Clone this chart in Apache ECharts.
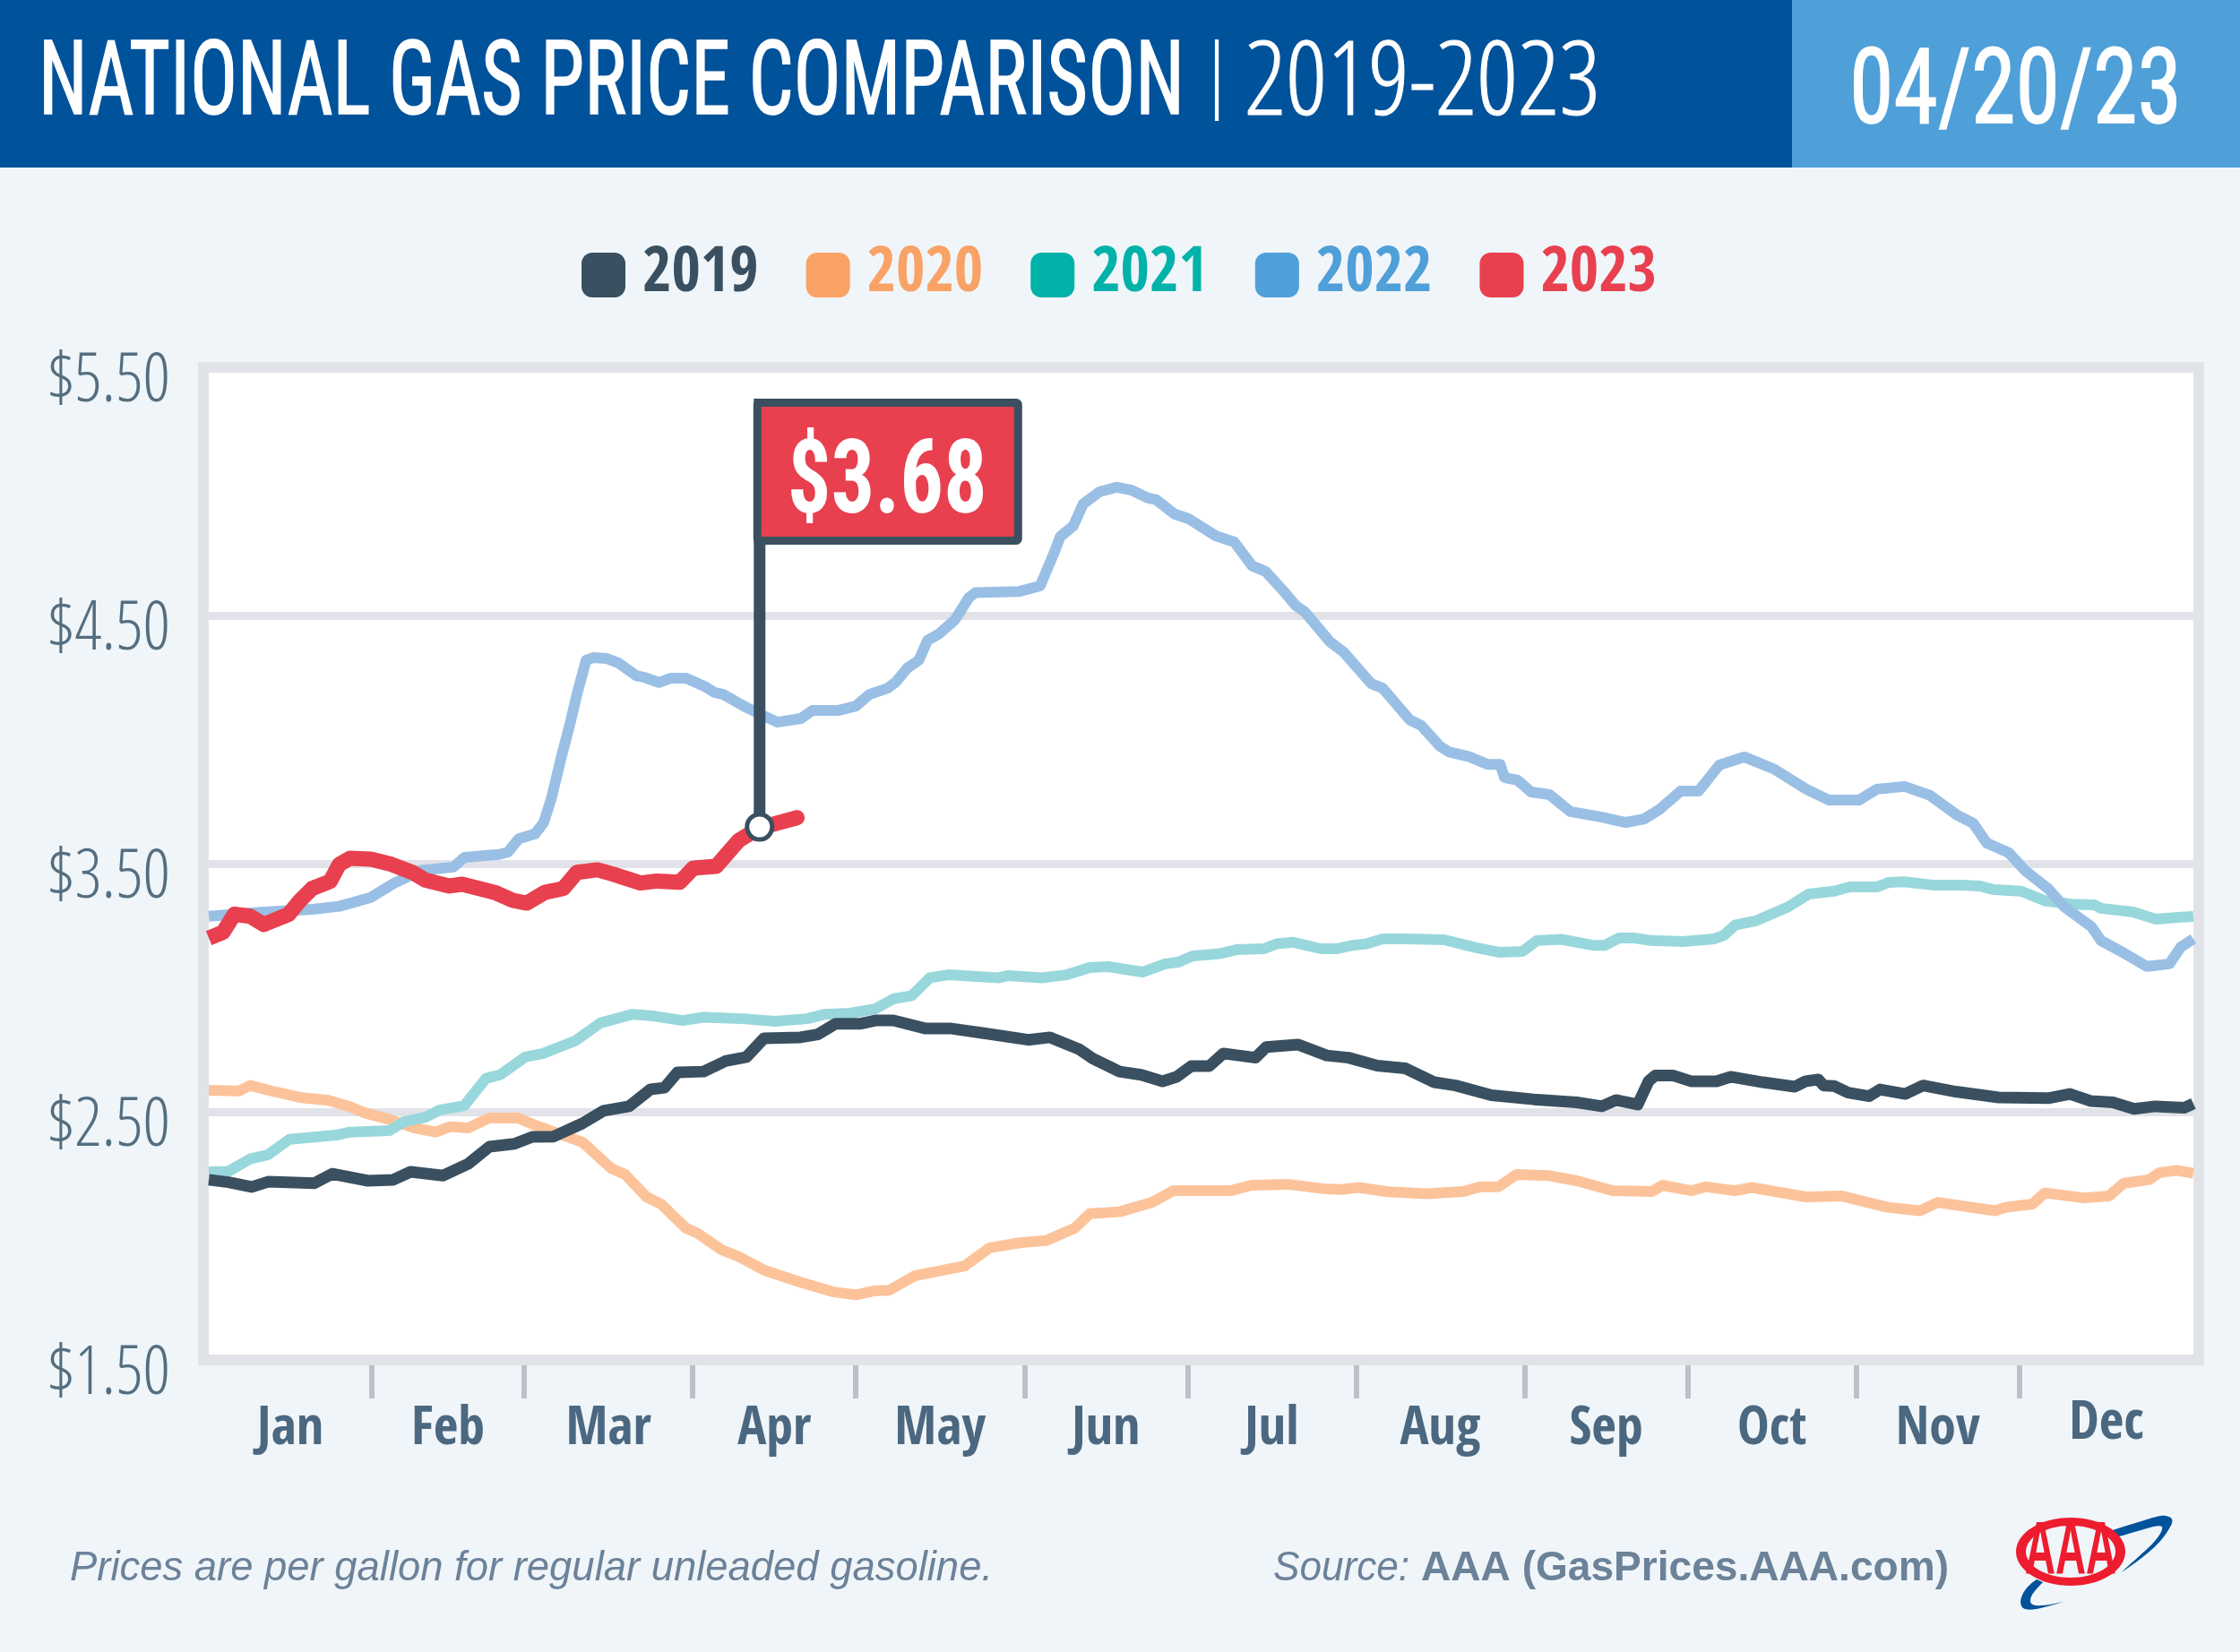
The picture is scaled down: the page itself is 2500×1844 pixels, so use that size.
<!DOCTYPE html>
<html><head><meta charset="utf-8">
<style>html,body{margin:0;padding:0;background:#F0F5F9}#c{width:2500px;height:1844px}</style>
<script src="https://cdn.jsdelivr.net/npm/echarts@6/dist/echarts.min.js"></script>
</head><body><div id="c"></div>
<script>
const monthNames=['Jan','Feb','Mar','Apr','May','Jun','Jul','Aug','Sep','Oct','Nov','Dec'];
const monthEnds=[30,58,89,119,150,180,211,242,272,303,333];
const monthMids=[15,44,73.5,104,134.5,165,195.5,226.5,257,287.5,318,349];
const priceTicks=[1.5,2.5,3.5,4.5,5.5];
const flagDay=101.3, flagPrice=3.648, flagLabel='$3.68';

const days2019=[0,3.6,7.9,10.9,19.4,22.7,29.3,33.9,37.1,43.1,47.7,51.6,56.2,59.5,63.4,68.7,72.6,77.3,81.2,83.8,86.2,91,95,98.9,102.1,108.8,112,115.3,119.9,122.6,125.9,131.7,136.3,142.8,150.7,154.7,160,162.6,167.5,171.5,175.4,178,180.7,184,186.6,192.5,194.5,200.3,205.6,209.6,214.9,220.1,225.4,229.3,235.9,243.7,251.6,256.2,258.8,262.8,264.8,266,269.4,272.6,277.3,279.9,285.8,291.7,293.7,296,297,298.9,301.5,305.4,307.4,312,315.3,321.3,329.2,338.3,342.3,346.2,350.2,354.1,358,363.3,365];
const prices2019=[2.226,2.216,2.197,2.218,2.212,2.25,2.222,2.226,2.258,2.243,2.29,2.359,2.371,2.399,2.40,2.453,2.504,2.522,2.59,2.597,2.659,2.662,2.704,2.721,2.796,2.80,2.812,2.855,2.855,2.868,2.868,2.836,2.836,2.816,2.79,2.80,2.753,2.714,2.662,2.649,2.623,2.641,2.684,2.684,2.735,2.718,2.761,2.771,2.727,2.718,2.686,2.675,2.619,2.606,2.567,2.55,2.538,2.522,2.547,2.529,2.623,2.646,2.646,2.623,2.623,2.641,2.619,2.601,2.623,2.63,2.606,2.604,2.577,2.563,2.59,2.572,2.606,2.581,2.558,2.555,2.572,2.543,2.538,2.512,2.522,2.516,2.533];

const days2020=[0,5.6,7.6,11.5,16.8,22,26,28.6,33.2,37.8,41.7,44.4,47.7,51.6,56.9,60.2,68.7,74,76.6,80.5,83.2,87.7,89.7,94.3,97.5,102.2,108.8,114.7,119,122.6,125.2,129.8,139,143.6,149.4,154,159.3,162,167.5,173.5,177.4,187.9,191.8,198.4,205,208.3,211.5,216.8,224,230.7,233.9,237.2,240.5,246.4,251.6,258.2,265.4,267.4,272.7,275.3,280.6,283.8,293.7,300.2,308.8,314.7,318,328.5,330.5,335.4,337.7,344.9,349.5,352.2,356.8,358.8,362,365];
const prices2020=[2.587,2.584,2.606,2.584,2.558,2.546,2.52,2.496,2.469,2.435,2.418,2.44,2.435,2.475,2.475,2.444,2.378,2.272,2.247,2.157,2.128,2.032,2.013,1.944,1.916,1.861,1.813,1.775,1.762,1.779,1.781,1.839,1.879,1.952,1.973,1.981,2.032,2.089,2.097,2.135,2.182,2.182,2.204,2.208,2.19,2.187,2.195,2.178,2.17,2.179,2.198,2.198,2.247,2.243,2.222,2.182,2.179,2.204,2.182,2.198,2.182,2.195,2.157,2.161,2.115,2.101,2.135,2.101,2.115,2.128,2.173,2.153,2.161,2.212,2.226,2.255,2.264,2.252];

const days2021=[0,3.6,7.6,10.9,14.8,23.4,26,33.2,35.9,39.8,42.4,47,51,53.6,58.2,61.5,67.4,72,77.9,81.8,87.1,91,98.2,104.1,110,113.3,118,122.6,125.9,129.3,132.6,136,145.3,147,153.2,157.8,162,165.4,171.7,175.9,178.4,181,185.6,189,194,196.5,199.5,204.5,207.4,210.4,212.9,215.9,220.4,227.2,233.1,237.3,241.6,244.3,248.7,254.6,256.8,259.3,262.3,265.2,271.1,276.9,278.7,280.7,284.5,290.4,294.2,298.9,301.8,306.8,308.9,311.9,317.3,322.4,325.7,328.3,333.3,337.9,342.5,346.8,348,353.9,358.1,362.7,365];
const prices2021=[2.258,2.26,2.31,2.327,2.389,2.406,2.418,2.424,2.46,2.478,2.507,2.525,2.635,2.649,2.721,2.735,2.786,2.858,2.893,2.886,2.868,2.881,2.875,2.865,2.875,2.893,2.897,2.915,2.955,2.968,3.04,3.052,3.04,3.049,3.04,3.052,3.081,3.085,3.063,3.096,3.104,3.128,3.136,3.153,3.157,3.177,3.183,3.157,3.157,3.171,3.177,3.197,3.197,3.193,3.161,3.143,3.146,3.19,3.195,3.171,3.171,3.20,3.20,3.19,3.186,3.197,3.212,3.252,3.269,3.325,3.377,3.389,3.406,3.406,3.424,3.427,3.413,3.413,3.41,3.395,3.389,3.349,3.337,3.334,3.32,3.305,3.276,3.284,3.287];

const days2022=[0,9.7,19,24,29.8,34,39,45,47,53.4,55,57,60,61.6,63,64.8,66.4,67.7,69.4,70.7,73.1,75.3,78.6,80.2,82.8,84.9,87.8,91.2,93,94.6,98.8,101.3,104.6,108.9,111,115.7,119,121.5,124.9,126.4,128.5,130.6,132.2,134.3,137.2,139.8,141,149.1,152.9,155.4,156.6,159,160.8,163.8,167,169.7,172.7,174.3,177.6,180.2,185.2,188.6,191.9,194.4,197.8,199.9,201.6,206.2,208.7,213.8,215.9,220.9,223,226.4,228,231.8,235.2,237.5,238.3,240.7,243.2,246.6,250.4,256,260.6,264,266.9,270.7,274,277.8,282.4,287.9,293.8,298,303.5,306.8,311.9,316.5,321.5,324.5,327,331.1,334.1,338.3,341.3,346.3,348,352.6,356.4,360.6,362.7,365];
const prices2022=[3.288,3.304,3.316,3.328,3.364,3.42,3.473,3.486,3.525,3.537,3.546,3.60,3.62,3.666,3.763,3.926,4.061,4.182,4.32,4.33,4.327,4.309,4.258,4.25,4.23,4.247,4.247,4.214,4.19,4.182,4.13,4.103,4.07,4.085,4.117,4.117,4.135,4.182,4.207,4.233,4.289,4.32,4.40,4.426,4.482,4.572,4.592,4.597,4.619,4.749,4.818,4.861,4.949,4.998,5.017,5.005,4.973,4.966,4.909,4.89,4.821,4.796,4.70,4.677,4.595,4.54,4.514,4.394,4.353,4.225,4.207,4.079,4.056,3.974,3.951,3.931,3.90,3.90,3.847,3.836,3.789,3.778,3.71,3.688,3.666,3.68,3.72,3.792,3.792,3.897,3.93,3.881,3.80,3.756,3.756,3.80,3.811,3.776,3.696,3.663,3.583,3.543,3.471,3.399,3.325,3.245,3.19,3.135,3.086,3.096,3.164,3.197];

const days2023=[0,2.6,4.7,7.6,10.1,14.7,16.8,19,22.3,24,26,29.8,33.6,37.4,39.9,44.2,46.6,52.6,55.9,58.5,61.8,65.2,67.7,71.5,74.4,79.4,82.4,86.6,89.1,93.3,97.5,101.3,103.8,108.2];
const prices2023=[3.20,3.223,3.296,3.288,3.255,3.296,3.352,3.40,3.428,3.497,3.522,3.518,3.497,3.465,3.433,3.41,3.417,3.384,3.352,3.341,3.384,3.40,3.465,3.475,3.457,3.422,3.43,3.425,3.482,3.489,3.594,3.645,3.659,3.685];

const years=['2019','2020','2021','2022','2023'];
const swatch={2019:'#3A5060',2020:'#F9A266',2021:'#00B2A9',2022:'#4F9FD9',2023:'#E8404F'};
const stroke={2019:'#3A5060',2020:'#FCC39B',2021:'#98D7DB',2022:'#99BFE5',2023:'#E8404F'};
const COND='"Open Sans Condensed",sans-serif';
const LIGHT='"Open Sans Condensed Light",sans-serif';
const ROBO='"Roboto Condensed",sans-serif';
const SANS='"Liberation Sans",sans-serif';
const mctx=document.createElement('canvas').getContext('2d');
function textScale(text,font,target){mctx.font=font;return target/mctx.measureText(text).width;}
function fit(text,left,cy,target,size,weight,color,family,embolden){
  const k=textScale(text,weight+' '+size+'px '+family,target);
  const style={text:text,fontSize:size,fontWeight:weight,fontFamily:family,fill:color,align:'left',verticalAlign:'middle'};
  if(embolden){style.stroke=color;style.lineWidth=embolden;}
  return {type:'text',x:left,y:cy,scaleX:k,z:20,style:style};
}
const zip=(a,b)=>a.map((d,i)=>[d,b[i]]);
const lineData={2019:zip(days2019,prices2019),2020:zip(days2020,prices2020),2021:zip(days2021,prices2021),2022:zip(days2022,prices2022),2023:zip(days2023,prices2023)};
const zOrder={2020:2,2021:3,2022:4,2019:5,2023:6};
const lastRed=days2023.length-1;

const chart=echarts.init(document.getElementById('c'),null,{renderer:'canvas',width:2500,height:1844});
const series=years.map(y=>({
  name:y,type:'line',data:lineData[y],z:zOrder[y],silent:true,animation:false,
  showSymbol:y==='2023',showAllSymbol:y==='2023',
  symbol:y==='2023'?((v,p)=>p.dataIndex===lastRed?'circle':'none'):'none',
  symbolSize:17,itemStyle:{color:stroke[y]},
  lineStyle:{color:stroke[y],width:y==='2023'?17:(y==='2019'?13:12),join:'round',cap:'butt'}
}));
series.push({
  name:'flag',type:'custom',z:10,silent:true,animation:false,
  data:[[flagDay,flagPrice]],
  renderItem:(params,api)=>{
    const p=api.coord([api.value(0),api.value(1)]);
    const dark='#3A5060';
    const boxL=p[0]-7, boxT=p[1]-478;
    return {type:'group',children:[
      {type:'rect',shape:{x:p[0]-6.5,y:boxT,width:13,height:478},style:{fill:dark}},
      {type:'rect',shape:{x:boxL+4.5,y:boxT+4.5,width:291,height:154,r:2},style:{fill:'#E8404F',stroke:dark,lineWidth:9}},
      {type:'text',x:boxL+38,y:boxT+98,scaleX:textScale(flagLabel,'bold 115px '+ROBO,223),
       style:{text:flagLabel,fontSize:115,fontWeight:'bold',fontFamily:ROBO,fill:'#fff',align:'left',verticalAlign:'middle'}},
      {type:'circle',shape:{cx:p[0],cy:p[1],r:14},style:{fill:'#fff',stroke:dark,lineWidth:5}}
    ]};
  }
});
const swooshes=['M2358 1708C2400 1695 2410 1691 2417 1692C2428 1694 2425 1700 2420 1708C2410 1725 2390 1740 2368 1755C2385 1738 2410 1720 2413 1707C2416 1698 2395 1707 2365 1715Z',
 'M2273 1763C2255 1775 2252 1790 2258 1795C2265 1800 2285 1793 2303 1788C2285 1792 2268 1795 2266 1788C2265 1780 2275 1772 2280 1766Z'];
series.push({
  name:'logo',type:'custom',coordinateSystem:'none',z:1,silent:true,animation:false,data:[[0]],
  renderItem:()=>({type:'group',children:swooshes.map(d=>({type:'path',shape:{pathData:d},style:{fill:'#00529B'}}))})
});

const graphic=[
  {type:'rect',shape:{x:0,y:0,width:2000,height:187},style:{fill:'#00529B'},z:1},
  {type:'rect',shape:{x:2000,y:0,width:500,height:187},style:{fill:'#4F9FD9'},z:1},
  fit('NATIONAL GAS PRICE COMPARISON',43,98,1279,115,'normal','#fff',ROBO,1.5),
  fit('|',1351,94,14,108,'normal','#fff',ROBO),
  fit('2019-2023',1389,98,397,115,'normal','#fff',LIGHT,1),
  fit('04/20/23',2064,108,371,117,'normal','#fff',ROBO,1.5),
  fit('Prices are per gallon for regular unleaded gasoline.',78,1751,1030,46,'italic','#6B8299',SANS),
  fit('Source:',1421,1751,152,46,'italic','#6B8299',SANS),
  fit('AAA (GasPrices.AAA.com)',1586,1751,589,46,'bold','#6B8299',SANS),
  {type:'ellipse',z:21,shape:{cx:2311,cy:1732,rx:61,ry:38},style:{fill:'#ED1C2E'}},
  {type:'ellipse',z:21,shape:{cx:2311,cy:1732,rx:50,ry:29},style:{fill:'#F0F5F9'}},
  Object.assign(fit('AAA',2260,1734,102,84,'bold','#ED1C2E',SANS),{z:22})
];
const monthFont={fontFamily:COND,fontSize:60,fontWeight:'bold',color:'#4B6880'};

chart.setOption({
  backgroundColor:'#F0F5F9',animation:false,
  textStyle:{fontFamily:COND},
  grid:{show:true,left:227,top:410,width:2227,height:1108,backgroundColor:'#fff',borderColor:'#E1E3E8',borderWidth:12,containLabel:false},
  legend:{
    left:644,top:267,orient:'horizontal',icon:'roundRect',itemWidth:49,itemHeight:50,itemGap:53,selectedMode:false,
    textStyle:{fontFamily:COND,fontSize:70,fontWeight:'bold',padding:[0,0,0,14]},
    data:years.map(y=>({name:y,icon:'roundRect',itemStyle:{color:swatch[y],borderWidth:0},lineStyle:{opacity:0},textStyle:{color:swatch[y]}}))
  },
  xAxis:{
    type:'value',min:-1,max:366,offset:6,
    axisLine:{show:false},splitLine:{show:false},
    axisTick:{show:true,customValues:monthEnds,length:37,lineStyle:{color:'#BDC1C7',width:6}},
    axisLabel:{customValues:monthMids,margin:36,...monthFont,
      rich:{m:{...monthFont,padding:[6,0,0,0]},d:{...monthFont,padding:[0,0,0,0]}},
      formatter:v=>{const n=monthNames[monthMids.indexOf(v)];return n==='Dec'?'{d|'+n+'}':'{m|'+n+'}';}}
  },
  yAxis:{
    type:'value',min:1.5,max:5.5,
    axisLine:{show:false},
    axisTick:{show:true,length:0,customValues:priceTicks,lineStyle:{width:0}},
    splitLine:{show:true,lineStyle:{color:'#E1E3E8',width:9}},
    axisLabel:{customValues:priceTicks,margin:37,color:'#546E80',fontFamily:LIGHT,fontSize:76,fontWeight:'normal',
      verticalAlign:'top',lineHeight:36,formatter:v=>'$'+v.toFixed(2)}
  },
  graphic:{elements:graphic},
  series:series
});
</script></body></html>
